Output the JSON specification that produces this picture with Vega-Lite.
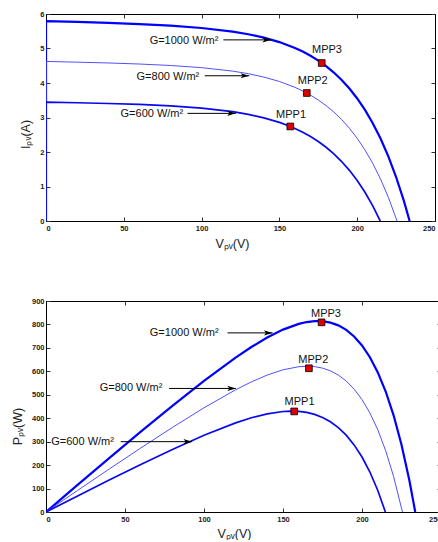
{
  "$schema": "https://vega.github.io/schema/vega-lite/v6.json",
  "background": "white",
  "padding": {"left": 10, "top": 9, "right": 0, "bottom": 0},
  "bounds": "flush",
  "spacing": 80,
  "config": {
    "view": {"stroke": "black", "strokeWidth": 1},
    "axis": {"grid": false, "domainColor": "black", "domainWidth": 1, "tickColor": "#333", "tickSize": -4, "labelFont": "Liberation Sans", "labelFontSize": 7.5, "labelFontWeight": "bold", "labelColor": "#222", "titleFont": "Liberation Sans", "titleFontSize": 12.5, "titleFontWeight": "normal", "titleColor": "#222"},
    "text": {"font": "Liberation Sans", "fontSize": 11, "color": "#111"}
  },
  "datasets": {
    "curves": [
      {"G": "1000", "k": 0, "V": 0, "I": 0, "P": 0},
      {"G": "1000", "k": 1, "V": 0, "I": 5.795, "P": 0},
      {"G": "1000", "k": 2, "V": 20, "I": 5.770, "P": 115.4},
      {"G": "1000", "k": 3, "V": 40, "I": 5.742, "P": 229.7},
      {"G": "1000", "k": 4, "V": 60, "I": 5.708, "P": 342.5},
      {"G": "1000", "k": 5, "V": 80, "I": 5.662, "P": 453.0},
      {"G": "1000", "k": 6, "V": 100, "I": 5.595, "P": 559.5},
      {"G": "1000", "k": 7, "V": 120, "I": 5.489, "P": 658.7},
      {"G": "1000", "k": 8, "V": 130, "I": 5.413, "P": 703.7},
      {"G": "1000", "k": 9, "V": 140, "I": 5.315, "P": 744.1},
      {"G": "1000", "k": 10, "V": 150, "I": 5.186, "P": 777.9},
      {"G": "1000", "k": 11, "V": 160, "I": 5.015, "P": 802.4},
      {"G": "1000", "k": 12, "V": 165, "I": 4.910, "P": 810.2},
      {"G": "1000", "k": 13, "V": 170, "I": 4.790, "P": 814.3},
      {"G": "1000", "k": 14, "V": 175, "I": 4.650, "P": 813.8},
      {"G": "1000", "k": 15, "V": 180, "I": 4.488, "P": 807.8},
      {"G": "1000", "k": 16, "V": 185, "I": 4.303, "P": 796.1},
      {"G": "1000", "k": 17, "V": 190, "I": 4.088, "P": 776.7},
      {"G": "1000", "k": 18, "V": 195, "I": 3.839, "P": 748.6},
      {"G": "1000", "k": 19, "V": 200, "I": 3.552, "P": 710.4},
      {"G": "1000", "k": 20, "V": 205, "I": 3.220, "P": 660.1},
      {"G": "1000", "k": 21, "V": 210, "I": 2.835, "P": 595.4},
      {"G": "1000", "k": 22, "V": 215, "I": 2.390, "P": 513.9},
      {"G": "1000", "k": 23, "V": 220, "I": 1.874, "P": 412.3},
      {"G": "1000", "k": 24, "V": 225, "I": 1.275, "P": 286.9},
      {"G": "1000", "k": 25, "V": 230, "I": 0.583, "P": 134.1},
      {"G": "1000", "k": 26, "V": 233.7, "I": 0, "P": 0},
      {"G": "800", "k": 0, "V": 0, "I": 0, "P": 0},
      {"G": "800", "k": 1, "V": 0, "I": 4.625, "P": 0},
      {"G": "800", "k": 2, "V": 20, "I": 4.604, "P": 92.1},
      {"G": "800", "k": 3, "V": 40, "I": 4.581, "P": 183.2},
      {"G": "800", "k": 4, "V": 60, "I": 4.550, "P": 273.0},
      {"G": "800", "k": 5, "V": 80, "I": 4.508, "P": 360.6},
      {"G": "800", "k": 6, "V": 100, "I": 4.445, "P": 444.5},
      {"G": "800", "k": 7, "V": 120, "I": 4.344, "P": 521.3},
      {"G": "800", "k": 8, "V": 130, "I": 4.270, "P": 555.1},
      {"G": "800", "k": 9, "V": 140, "I": 4.172, "P": 584.1},
      {"G": "800", "k": 10, "V": 150, "I": 4.044, "P": 606.6},
      {"G": "800", "k": 11, "V": 160, "I": 3.874, "P": 619.8},
      {"G": "800", "k": 12, "V": 165, "I": 3.769, "P": 621.9},
      {"G": "800", "k": 13, "V": 170, "I": 3.648, "P": 620.2},
      {"G": "800", "k": 14, "V": 175, "I": 3.507, "P": 613.7},
      {"G": "800", "k": 15, "V": 180, "I": 3.345, "P": 602.1},
      {"G": "800", "k": 16, "V": 185, "I": 3.158, "P": 584.2},
      {"G": "800", "k": 17, "V": 190, "I": 2.941, "P": 558.8},
      {"G": "800", "k": 18, "V": 195, "I": 2.688, "P": 524.2},
      {"G": "800", "k": 19, "V": 200, "I": 2.397, "P": 479.4},
      {"G": "800", "k": 20, "V": 205, "I": 2.060, "P": 422.3},
      {"G": "800", "k": 21, "V": 210, "I": 1.669, "P": 350.5},
      {"G": "800", "k": 22, "V": 215, "I": 1.214, "P": 261.0},
      {"G": "800", "k": 23, "V": 220, "I": 0.688, "P": 151.4},
      {"G": "800", "k": 24, "V": 225.6, "I": 0, "P": 0},
      {"G": "600", "k": 0, "V": 0, "I": 0, "P": 0},
      {"G": "600", "k": 1, "V": 0, "I": 3.444, "P": 0},
      {"G": "600", "k": 2, "V": 20, "I": 3.427, "P": 68.5},
      {"G": "600", "k": 3, "V": 40, "I": 3.406, "P": 136.2},
      {"G": "600", "k": 4, "V": 60, "I": 3.378, "P": 202.7},
      {"G": "600", "k": 5, "V": 80, "I": 3.337, "P": 267.0},
      {"G": "600", "k": 6, "V": 100, "I": 3.273, "P": 327.3},
      {"G": "600", "k": 7, "V": 120, "I": 3.169, "P": 380.3},
      {"G": "600", "k": 8, "V": 130, "I": 3.092, "P": 402.0},
      {"G": "600", "k": 9, "V": 140, "I": 2.991, "P": 418.7},
      {"G": "600", "k": 10, "V": 150, "I": 2.858, "P": 428.7},
      {"G": "600", "k": 11, "V": 155, "I": 2.776, "P": 430.3},
      {"G": "600", "k": 12, "V": 160, "I": 2.682, "P": 429.1},
      {"G": "600", "k": 13, "V": 165, "I": 2.574, "P": 424.7},
      {"G": "600", "k": 14, "V": 170, "I": 2.448, "P": 416.2},
      {"G": "600", "k": 15, "V": 175, "I": 2.304, "P": 403.2},
      {"G": "600", "k": 16, "V": 180, "I": 2.138, "P": 384.8},
      {"G": "600", "k": 17, "V": 185, "I": 1.946, "P": 360.0},
      {"G": "600", "k": 18, "V": 190, "I": 1.724, "P": 327.6},
      {"G": "600", "k": 19, "V": 195, "I": 1.468, "P": 286.3},
      {"G": "600", "k": 20, "V": 200, "I": 1.172, "P": 234.4},
      {"G": "600", "k": 21, "V": 205, "I": 0.832, "P": 170.6},
      {"G": "600", "k": 22, "V": 210, "I": 0.437, "P": 91.8},
      {"G": "600", "k": 23, "V": 214.8, "I": 0, "P": 0}
    ],
    "mppI": [
      {"name": "MPP3", "V": 177.2, "Y": 4.58, "LV": 180.6, "LY": 4.96},
      {"name": "MPP2", "V": 167.6, "Y": 3.71, "LV": 171.4, "LY": 4.07},
      {"name": "MPP1", "V": 157.0, "Y": 2.74, "LV": 157.5, "LY": 3.07}
    ],
    "mppP": [
      {"name": "MPP3", "V": 174.4, "Y": 809, "LV": 177.2, "LY": 846},
      {"name": "MPP2", "V": 166.4, "Y": 613, "LV": 169.2, "LY": 650},
      {"name": "MPP1", "V": 157.1, "Y": 429, "LV": 160.5, "LY": 470}
    ],
    "notesI": [
      {"text": "G=1000 W/m²", "TV": 66.6, "TY": 5.23, "V1": 114, "V2": 144.6, "AY": 5.25},
      {"text": "G=800 W/m²", "TV": 58.2, "TY": 4.18, "V1": 102, "V2": 130.6, "AY": 4.21},
      {"text": "G=600 W/m²", "TV": 47.9, "TY": 3.10, "V1": 90.9, "V2": 122, "AY": 3.12}
    ],
    "notesP": [
      {"text": "G=1000 W/m²", "TV": 65.7, "TY": 764, "V1": 114.9, "V2": 143.4, "AY": 764},
      {"text": "G=800 W/m²", "TV": 34.0, "TY": 527, "V1": 77.9, "V2": 120.2, "AY": 527},
      {"text": "-G=600 W/m²", "TV": 1.0, "TY": 300, "V1": 47.3, "V2": 92.5, "AY": 300}
    ]
  },
  "vconcat": [
    {
      "width": 389,
      "height": 207,
      "layer": [
        {
          "data": {"name": "curves"},
          "mark": {"type": "line", "strokeCap": "butt", "clip": true},
          "encoding": {
            "x": {"field": "V", "type": "quantitative", "scale": {"domain": [0, 250], "nice": false}, "axis": {"values": [0, 50, 100, 150, 200, 250], "title": "Vₚᵥ(V)", "titleX": 186, "titleY": 26, "titleBaseline": "alphabetic", "labelPadding": 7}},
            "y": {"field": "I", "type": "quantitative", "scale": {"domain": [0, 6], "nice": false}, "axis": {"values": [0, 1, 2, 3, 4, 5, 6], "title": "Iₚᵥ(A)", "titleX": -17, "titleY": 120, "titleBaseline": "alphabetic", "labelPadding": 6}},
            "order": {"field": "k", "type": "quantitative"},
            "color": {"field": "G", "type": "nominal", "scale": {"domain": ["1000", "800", "600"], "range": ["#0000ff", "#5050ff", "#0808f0"]}, "legend": null},
            "strokeWidth": {"field": "G", "type": "nominal", "scale": {"type": "ordinal", "domain": ["1000", "800", "600"], "range": [2.2, 1, 1.7]}, "legend": null}
          }
        },
        {
          "data": {"name": "mppI"},
          "mark": {"type": "point", "opacity": 0},
          "encoding": {
            "x": {"field": "V", "type": "quantitative", "scale": {"domain": [0, 250], "nice": false}, "axis": {"orient": "top", "values": [0, 50, 100, 150, 200, 250], "labels": false, "title": null}},
            "y": {"field": "Y", "type": "quantitative", "scale": {"domain": [0, 6], "nice": false}, "axis": {"orient": "right", "values": [0, 1, 2, 3, 4, 5, 6], "labels": false, "title": null}}
          }
        },
        {
          "data": {"name": "notesI"},
          "mark": {"type": "rule", "color": "black", "strokeWidth": 1},
          "encoding": {
            "x": {"field": "V1", "type": "quantitative", "axis": null},
            "x2": {"field": "V2"},
            "y": {"field": "AY", "type": "quantitative", "axis": null}
          }
        },
        {
          "data": {"name": "notesI"},
          "mark": {"type": "point", "shape": "M-1,-0.3L0,0L-1,0.3L-0.75,0Z", "filled": true, "color": "black", "opacity": 1, "size": 300},
          "encoding": {
            "x": {"field": "V2", "type": "quantitative", "axis": null},
            "y": {"field": "AY", "type": "quantitative", "axis": null}
          }
        },
        {
          "data": {"name": "notesI"},
          "mark": {"type": "text", "align": "left", "baseline": "middle"},
          "encoding": {
            "x": {"field": "TV", "type": "quantitative", "axis": null},
            "y": {"field": "TY", "type": "quantitative", "axis": null},
            "text": {"field": "text"}
          }
        },
        {
          "data": {"name": "mppI"},
          "mark": {"type": "point", "shape": "square", "filled": true, "color": "#e00000", "stroke": "black", "strokeWidth": 0.8, "opacity": 1, "size": 45},
          "encoding": {
            "x": {"field": "V", "type": "quantitative", "axis": null},
            "y": {"field": "Y", "type": "quantitative", "axis": null}
          }
        },
        {
          "data": {"name": "mppI"},
          "mark": {"type": "text", "align": "center", "baseline": "middle"},
          "encoding": {
            "x": {"field": "LV", "type": "quantitative", "axis": null},
            "y": {"field": "LY", "type": "quantitative", "axis": null},
            "text": {"field": "name"}
          }
        }
      ],
      "resolve": {"axis": {"x": "independent", "y": "independent"}}
    },
    {
      "width": 395,
      "height": 211,
      "layer": [
        {
          "data": {"name": "curves"},
          "mark": {"type": "line", "strokeCap": "butt", "clip": true},
          "encoding": {
            "x": {"field": "V", "type": "quantitative", "scale": {"domain": [0, 250], "nice": false}, "axis": {"values": [0, 50, 100, 150, 200, 250], "title": "Vₚᵥ(V)", "titleX": 188, "titleY": 25, "titleBaseline": "alphabetic", "labelPadding": 7}},
            "y": {"field": "P", "type": "quantitative", "scale": {"domain": [0, 900], "nice": false}, "axis": {"values": [0, 100, 200, 300, 400, 500, 600, 700, 800, 900], "title": "Pₚᵥ(W)", "titleX": -25, "titleY": 125, "titleBaseline": "alphabetic", "labelPadding": 6}},
            "order": {"field": "k", "type": "quantitative"},
            "color": {"field": "G", "type": "nominal", "scale": {"domain": ["1000", "800", "600"], "range": ["#0000ff", "#5050ff", "#0808f0"]}, "legend": null},
            "strokeWidth": {"field": "G", "type": "nominal", "scale": {"type": "ordinal", "domain": ["1000", "800", "600"], "range": [2.2, 1, 1.7]}, "legend": null}
          }
        },
        {
          "data": {"name": "mppP"},
          "mark": {"type": "point", "opacity": 0},
          "encoding": {
            "x": {"field": "V", "type": "quantitative", "scale": {"domain": [0, 250], "nice": false}, "axis": {"orient": "top", "values": [0, 50, 100, 150, 200, 250], "labels": false, "title": null}},
            "y": {"field": "Y", "type": "quantitative", "scale": {"domain": [0, 900], "nice": false}, "axis": {"orient": "right", "values": [0, 100, 200, 300, 400, 500, 600, 700, 800, 900], "labels": false, "title": null}}
          }
        },
        {
          "data": {"name": "notesP"},
          "mark": {"type": "rule", "color": "black", "strokeWidth": 1},
          "encoding": {
            "x": {"field": "V1", "type": "quantitative", "axis": null},
            "x2": {"field": "V2"},
            "y": {"field": "AY", "type": "quantitative", "axis": null}
          }
        },
        {
          "data": {"name": "notesP"},
          "mark": {"type": "point", "shape": "M-1,-0.3L0,0L-1,0.3L-0.75,0Z", "filled": true, "color": "black", "opacity": 1, "size": 300},
          "encoding": {
            "x": {"field": "V2", "type": "quantitative", "axis": null},
            "y": {"field": "AY", "type": "quantitative", "axis": null}
          }
        },
        {
          "data": {"name": "notesP"},
          "mark": {"type": "text", "align": "left", "baseline": "middle"},
          "encoding": {
            "x": {"field": "TV", "type": "quantitative", "axis": null},
            "y": {"field": "TY", "type": "quantitative", "axis": null},
            "text": {"field": "text"}
          }
        },
        {
          "data": {"name": "mppP"},
          "mark": {"type": "point", "shape": "square", "filled": true, "color": "#e00000", "stroke": "black", "strokeWidth": 0.8, "opacity": 1, "size": 45},
          "encoding": {
            "x": {"field": "V", "type": "quantitative", "axis": null},
            "y": {"field": "Y", "type": "quantitative", "axis": null}
          }
        },
        {
          "data": {"name": "mppP"},
          "mark": {"type": "text", "align": "center", "baseline": "middle"},
          "encoding": {
            "x": {"field": "LV", "type": "quantitative", "axis": null},
            "y": {"field": "LY", "type": "quantitative", "axis": null},
            "text": {"field": "name"}
          }
        }
      ],
      "resolve": {"axis": {"x": "independent", "y": "independent"}}
    }
  ]
}
